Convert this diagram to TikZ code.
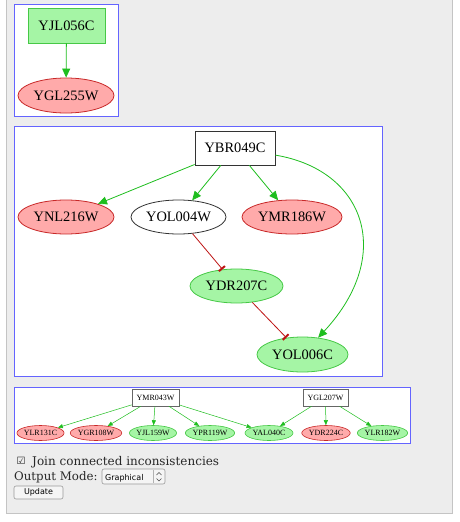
\documentclass[tikz,border=0pt]{standalone}
\usepackage{fontspec}
\setmainfont{Liberation Serif}
\newfontfamily\formfont{DejaVu Serif}
\newfontfamily\uifont{DejaVu Sans}
\usetikzlibrary{arrows.meta,shapes.geometric}
\definecolor{panelgray}{HTML}{EDEDED}
\definecolor{panelline}{HTML}{C4C4C4}
\definecolor{gfill}{RGB}{165,245,165}
\definecolor{gline}{RGB}{70,200,70}
\definecolor{rfill}{RGB}{255,170,170}
\definecolor{rline}{RGB}{200,40,40}
\definecolor{gedge}{RGB}{30,190,30}
\definecolor{redge}{RGB}{190,20,20}
\definecolor{cluster}{RGB}{100,100,255}
\definecolor{formtext}{RGB}{40,40,40}
\begin{document}
\begin{tikzpicture}[x=1pt,y=-1pt,
  clusterbox/.style={draw=cluster,fill=white,line width=0.7pt},
  bigtxt/.style={font=\fontsize{14.4}{16}\selectfont,inner sep=0pt},
  smalltxt/.style={font=\fontsize{8}{9}\selectfont,inner sep=0pt},
  grect/.style={bigtxt,draw=gline,fill=gfill,line width=0.8pt},
  wrect/.style={bigtxt,draw=black!80,fill=white,line width=0.8pt},
  gell/.style={bigtxt,ellipse,draw=gline,fill=gfill,line width=0.8pt},
  rell/.style={bigtxt,ellipse,draw=rline,fill=rfill,line width=0.8pt},
  well/.style={bigtxt,ellipse,draw=black!80,fill=white,line width=0.8pt},
  swrect/.style={smalltxt,draw=black!60,fill=white,line width=0.6pt},
  sgell/.style={smalltxt,ellipse,draw=gline,fill=gfill,line width=0.6pt},
  srell/.style={smalltxt,ellipse,draw=rline,fill=rfill,line width=0.6pt},
  act/.style={draw=gedge,line width=0.8pt,-{Triangle[length=9pt,width=8pt]}},
  sact/.style={draw=gedge,line width=0.5pt,-{Triangle[length=5pt,width=4pt]}},
  inh/.style={draw=redge,line width=0.8pt,-{Bar[width=8pt,line width=2pt]}},
  btn/.style={draw=black!40,fill=black!4,rounded corners=2pt,line width=0.6pt}
]
\useasboundingbox (0,0) rectangle (460,522);
\fill[white] (0,0) rectangle (460,522);
\fill[panelgray] (6,-1) rectangle (452,513);
\draw[panelline,line width=1pt] (6,-1) -- (6,513) -- (452,513) -- (452,-1);

% cluster 1
\draw[clusterbox] (14,4) rectangle (118,116);
\node[grect,minimum width=77pt,minimum height=35pt] (yjl056c) at (66.5,25.5) {YJL056C};
\node[rell,minimum width=96pt,minimum height=35pt] (ygl255w) at (66,95.5) {YGL255W};
\draw[act] (yjl056c) -- (ygl255w);

% cluster 2
\draw[clusterbox] (14,126) rectangle (382,376);
\node[wrect,minimum width=80pt,minimum height=34pt] (ybr049c) at (235,148) {YBR049C};
\node[rell,minimum width=96pt,minimum height=34pt] (ynl216w) at (66,217) {YNL216W};
\node[well,minimum width=95pt,minimum height=34pt] (yol004w) at (178.5,217) {YOL004W};
\node[rell,minimum width=100pt,minimum height=34pt] (ymr186w) at (292,217) {YMR186W};
\node[gell,minimum width=93pt,minimum height=34pt] (ydr207c) at (236.5,286) {YDR207C};
\node[gell,minimum width=91pt,minimum height=35pt] (yol006c) at (302.5,354.5) {YOL006C};
\draw[act] (ybr049c) -- (ynl216w);
\draw[act] (ybr049c) -- (yol004w);
\draw[act] (ybr049c) -- (ymr186w);
\draw[act] (ybr049c.-10) .. controls (365,170) and (395,255) .. (yol006c);
\draw[inh] (yol004w) -- (ydr207c);
\draw[inh] (ydr207c) -- (yol006c);

% cluster 3
\draw[clusterbox] (14,387) rectangle (410,443);
\node[swrect,minimum width=47pt,minimum height=17pt] (ymr043w) at (155.5,397.5) {YMR043W};
\node[swrect,minimum width=45pt,minimum height=17pt] (ygl207w) at (325.5,397.5) {YGL207W};
\node[srell,minimum width=47pt,minimum height=15pt] (ylr131c) at (40.5,433) {YLR131C};
\node[srell,minimum width=46pt,minimum height=15pt] (ygr108w) at (96,433) {YGR108W};
\node[sgell,minimum width=46pt,minimum height=15pt] (yjl159w) at (153,433) {YJL159W};
\node[sgell,minimum width=46pt,minimum height=15pt] (ypr119w) at (210,433) {YPR119W};
\node[sgell,minimum width=48pt,minimum height=15pt] (yal040c) at (269,433) {YAL040C};
\node[srell,minimum width=48pt,minimum height=15pt] (ydr224c) at (326,433) {YDR224C};
\node[sgell,minimum width=49pt,minimum height=15pt] (ylr182w) at (382.5,433) {YLR182W};
\foreach \t in {ylr131c,ygr108w,yjl159w,ypr119w,yal040c}
  \draw[sact] (ymr043w) -- (\t);
\foreach \t in {yal040c,ydr224c,ylr182w}
  \draw[sact] (ygl207w) -- (\t);

% form controls
\node[anchor=base west,inner sep=0pt,text=formtext,font=\uifont\fontsize{10}{12}\selectfont] (chk) at (16.5,464) {☑};
\node[anchor=base west,inner sep=0pt,text=formtext,font=\formfont\fontsize{12}{14}\selectfont] (joinlbl) at (32,465) {Join connected inconsistencies};
\node[anchor=base west,inner sep=0pt,text=formtext,font=\formfont\fontsize{11.8}{14}\selectfont] (modelbl) at (14,480) {Output Mode:};
\draw[btn] (102,469) rectangle (165,484);
\node[anchor=base west,inner sep=0pt,font=\uifont\fontsize{8}{9}\selectfont] (graphical) at (105,480) {Graphical};
\draw[black!30,line width=0.5pt] (153,470) -- (153,483);
\draw[black!70,line width=0.6pt] (156.5,475) -- (159,472.5) -- (161.5,475);
\draw[black!70,line width=0.6pt] (156.5,478.5) -- (159,481) -- (161.5,478.5);
\draw[btn] (14,486) rectangle (63,499);
\node[inner sep=0pt,font=\uifont\fontsize{8}{9}\selectfont] (update) at (38.5,492.5) {Update};
\end{tikzpicture}
\end{document}
